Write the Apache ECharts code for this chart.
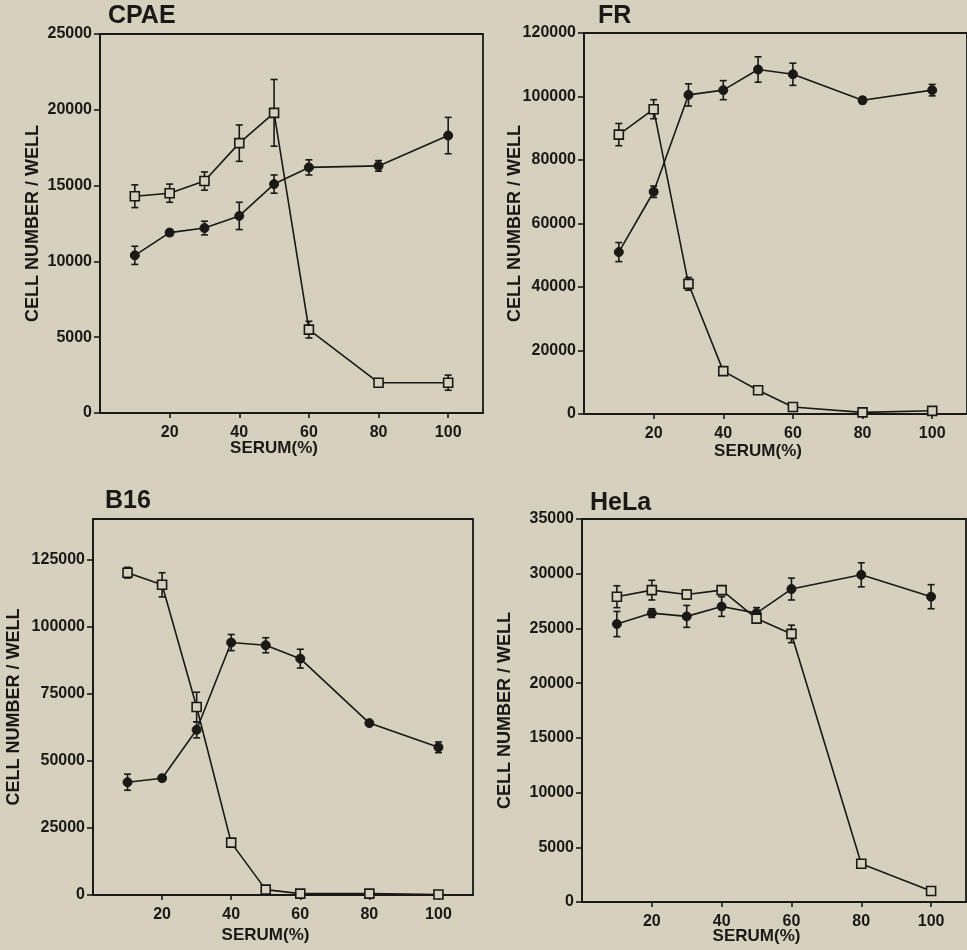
<!DOCTYPE html>
<html>
<head>
<meta charset="utf-8">
<script src="https://cdn.jsdelivr.net/npm/echarts@6/dist/echarts.min.js"></script>
<style>
  html, body { margin: 0; padding: 0; background: #d6d0be; }
  #chart { width: 967px; height: 950px; }
</style>
</head>
<body>
<div id="chart"></div>
<script>
// serum concentration (%)
const serum = [10, 20, 30, 40, 50, 60, 80, 100];
const xTicks = [20, 40, 60, 80, 100];

// CPAE
const cpaeTicks = [0, 5000, 10000, 15000, 20000, 25000];
const cpaeOpen = [14300, 14500, 15300, 17800, 19800, 5500, 2000, 2000];
const cpaeOpenErr = [750, 600, 600, 1200, 2200, 550, 150, 500];
const cpaeFilled = [10400, 11900, 12200, 13000, 15100, 16200, 16300, 18300];
const cpaeFilledErr = [600, 200, 450, 900, 600, 500, 350, 1200];

// FR
const frTicks = [0, 20000, 40000, 60000, 80000, 100000, 120000];
const frOpen = [88000, 96000, 41000, 13500, 7500, 2200, 500, 1000];
const frOpenErr = [3500, 3000, 2000, 0, 0, 0, 0, 0];
const frFilled = [51000, 70000, 100500, 102000, 108500, 107000, 98800, 102000];
const frFilledErr = [3000, 1800, 3500, 3000, 4000, 3500, 1000, 1800];

// B16
const b16Ticks = [0, 25000, 50000, 75000, 100000, 125000];
const b16Open = [120000, 115500, 70000, 19500, 2000, 500, 500, 200];
const b16OpenErr = [2000, 4500, 5500, 0, 0, 0, 0, 0];
const b16Filled = [42000, 43500, 61500, 94000, 93000, 88000, 64000, 55000];
const b16FilledErr = [3000, 1000, 3000, 3000, 2800, 3500, 800, 2000];

// HeLa
const helaTicks = [0, 5000, 10000, 15000, 20000, 25000, 30000, 35000];
const helaOpen = [27900, 28500, 28100, 28500, 25900, 24500, 3500, 1000];
const helaOpenErr = [1000, 900, 400, 400, 300, 800, 0, 0];
const helaFilled = [25400, 26400, 26100, 27000, 26400, 28600, 29900, 27900];
const helaFilledErr = [1150, 400, 1000, 900, 500, 1000, 1100, 1100];

const ink = '#1b1916';
const bg = '#d6d0be';
const font = 'Liberation Sans, Arial, sans-serif';

const panels = [
  { title: 'CPAE', tl: [108, 4], grid: [100, 34, 383, 379], yMax: 25000, ticks: cpaeTicks, nameGap: 58, xGap: 27,
    open: cpaeOpen, openErr: cpaeOpenErr, filled: cpaeFilled, filledErr: cpaeFilledErr },
  { title: 'FR', tl: [598, 4], grid: [584, 33, 386, 381], yMax: 120000, ticks: frTicks, nameGap: 60, xGap: 29,
    open: frOpen, openErr: frOpenErr, filled: frFilled, filledErr: frFilledErr },
  { title: 'B16', tl: [105, 489], grid: [93, 519, 380, 376], yMax: 140000, ticks: b16Ticks, nameGap: 70, xGap: 32,
    open: b16Open, openErr: b16OpenErr, filled: b16Filled, filledErr: b16FilledErr },
  { title: 'HeLa', tl: [590, 491], grid: [582, 519, 384, 383], yMax: 35000, ticks: helaTicks, nameGap: 68, xGap: 26,
    open: helaOpen, openErr: helaOpenErr, filled: helaFilled, filledErr: helaFilledErr }
];

function errorBars(idx, values, errs) {
  return {
    type: 'custom',
    xAxisIndex: idx,
    yAxisIndex: idx,
    z: 1,
    silent: true,
    data: serum.map((x, i) => [x, values[i], errs[i]]),
    encode: { x: 0, y: 1 },
    renderItem: function (params, api) {
      const x = api.value(0), y = api.value(1), e = api.value(2);
      if (!e) return;
      const hi = api.coord([x, y + e]);
      const lo = api.coord([x, y - e]);
      const w = 3.5;
      const st = { stroke: ink, lineWidth: 1.6 };
      return {
        type: 'group',
        children: [
          { type: 'line', shape: { x1: hi[0], y1: hi[1], x2: lo[0], y2: lo[1] }, style: st },
          { type: 'line', shape: { x1: hi[0] - w, y1: hi[1], x2: hi[0] + w, y2: hi[1] }, style: st },
          { type: 'line', shape: { x1: lo[0] - w, y1: lo[1], x2: lo[0] + w, y2: lo[1] }, style: st }
        ]
      };
    }
  };
}

const chart = echarts.init(document.getElementById('chart'));

const option = {
  backgroundColor: bg,
  animation: false,
  title: panels.map(p => ({
    text: p.title,
    left: p.tl[0],
    top: p.tl[1],
    padding: 0,
    textStyle: { fontSize: 25, fontWeight: 'bold', color: ink, fontFamily: font }
  })),
  grid: panels.map(p => ({
    left: p.grid[0], top: p.grid[1], width: p.grid[2], height: p.grid[3],
    show: true, borderColor: ink, borderWidth: 1.8, backgroundColor: 'transparent',
    containLabel: false
  })),
  xAxis: panels.map((p, i) => ({
    type: 'value',
    gridIndex: i,
    min: 0,
    max: 110,
    name: 'SERUM(%)',
    nameLocation: 'middle',
    nameGap: p.xGap,
    nameMoveOverlap: false,
    nameTextStyle: { fontSize: 17, fontWeight: 'bold', color: ink, fontFamily: font, padding: [0, 35, 0, 0] },
    axisLine: { lineStyle: { color: ink, width: 1.8 } },
    axisTick: { length: 5, customValues: xTicks, lineStyle: { color: ink, width: 1.6 } },
    splitLine: { show: false },
    axisLabel: {
      margin: 12, customValues: xTicks,
      fontSize: 16, fontWeight: 'bold', color: ink, fontFamily: font
    }
  })),
  yAxis: panels.map((p, i) => ({
    type: 'value',
    gridIndex: i,
    min: 0,
    max: p.yMax,
    name: 'CELL NUMBER / WELL',
    nameLocation: 'middle',
    nameGap: p.nameGap,
    nameMoveOverlap: false,
    nameTextStyle: { fontSize: 18, fontWeight: 'bold', color: ink, fontFamily: font },
    axisLine: { lineStyle: { color: ink, width: 1.8 } },
    axisTick: { length: 6, customValues: p.ticks, lineStyle: { color: ink, width: 1.6 } },
    splitLine: { show: false },
    axisLabel: {
      margin: 8, customValues: p.ticks,
      fontSize: 16, fontWeight: 'bold', color: ink, fontFamily: font,
      formatter: v => String(v)
    }
  })),
  series: []
};

panels.forEach((p, i) => {
  option.series.push(errorBars(i, p.filled, p.filledErr));
  option.series.push(errorBars(i, p.open, p.openErr));
  option.series.push({
    type: 'line',
    xAxisIndex: i, yAxisIndex: i,
    z: 3,
    data: serum.map((x, k) => [x, p.filled[k]]),
    symbol: 'circle',
    symbolSize: 9,
    lineStyle: { color: ink, width: 1.6 },
    itemStyle: { color: ink, borderColor: ink, borderWidth: 1 }
  });
  option.series.push({
    type: 'line',
    xAxisIndex: i, yAxisIndex: i,
    z: 4,
    data: serum.map((x, k) => [x, p.open[k]]),
    symbol: 'rect',
    symbolSize: 9,
    lineStyle: { color: ink, width: 1.6 },
    itemStyle: { color: bg, borderColor: ink, borderWidth: 1.6 }
  });
});

chart.setOption(option);
</script>
</body>
</html>
